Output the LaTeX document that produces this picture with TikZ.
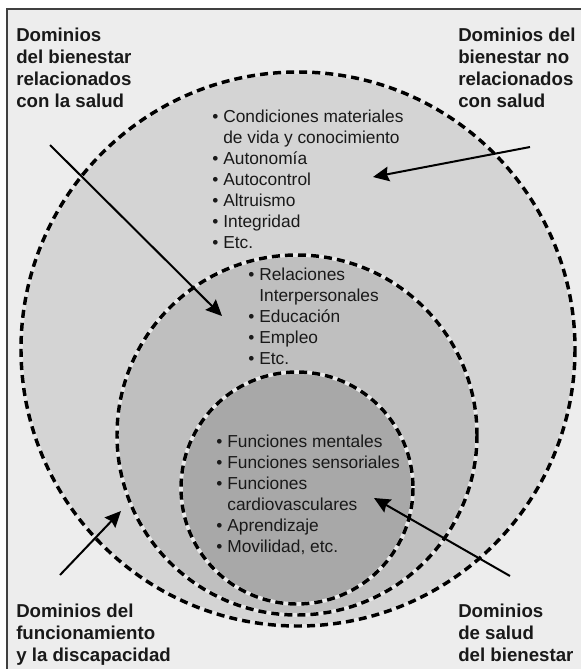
\documentclass[tikz,border=0pt]{standalone}
\usepackage{fontspec}
\setmainfont{Liberation Sans}
\usetikzlibrary{arrows.meta}
\newcommand{\punto}{\makebox[8.3pt][l]{\textbullet}}
\newcommand{\sangria}{\hspace*{8.3pt}}

\begin{document}
\begin{tikzpicture}[x=0.75pt,y=-0.75pt,
  etiqueta/.style={anchor=base west,align=left,inner sep=0pt,text=black!90,font=\fontsize{14}{16.5}\selectfont\bfseries},
  lista/.style={anchor=base west,align=left,inner sep=0pt,text=black!90,font=\fontsize{13}{15.75}\selectfont},
  halo/.style={draw=black!9,line width=2.8pt},
  anillo/.style={draw=black,line width=2.6pt,dash pattern=on 6pt off 3.8pt},
  flecha/.style={line width=1.5pt,-{Stealth[length=12pt,width=11pt,inset=1.5pt]}}]
\useasboundingbox (0,0) rectangle (581,669);
\fill[black!7] (7,9) rectangle (581,669);
\draw[line width=1.1pt,black!75] (7,669) -- (7,9) -- (581,9);

\fill[black!17] (298,349) circle [radius=277];
\draw[halo] (298,349) circle [radius=277];
\draw[anillo] (298,349) circle [radius=277];

\fill[black!25] (297,435) circle [radius=180];
\draw[halo] (297,435) circle [radius=180];
\draw[anillo] (297,435) circle [radius=180];

\fill[black!34] (297,488) circle [radius=116];
\draw[halo] (297,488) circle [radius=116];
\draw[anillo] (297,488) circle [radius=116];

\node[etiqueta] (relSalud) at (16,107) {Dominios\\del bienestar\\relacionados\\con la salud};
\node[etiqueta] (noSalud) at (458,107) {Dominios del\\bienestar no\\relacionados\\con salud};
\node[etiqueta] (funcionamiento) at (16,661) {Dominios del\\funcionamiento\\y la discapacidad};
\node[etiqueta] (saludBienestar) at (458,661) {Dominios\\de salud\\del bienestar};

\node[lista] (listaExterna) at (212,248) {\punto Condiciones materiales\\\sangria de vida y conocimiento\\\punto Autonomía\\\punto Autocontrol\\\punto Altruismo\\\punto Integridad\\\punto Etc.};
\node[lista] (listaMedia) at (248,364) {\punto Relaciones\\\sangria Interpersonales\\\punto Educación\\\punto Empleo\\\punto Etc.};
\node[lista] (listaInterna) at (216,552) {\punto Funciones mentales\\\punto Funciones sensoriales\\\punto Funciones\\\sangria cardiovasculares\\\punto Aprendizaje\\\punto Movilidad, etc.};

\coordinate (d1) at (50,145);
\coordinate (h1) at (222,316);
\coordinate (d2) at (530,147);
\coordinate (h2) at (373,177);
\coordinate (d3) at (60,575);
\coordinate (h3) at (121,511);
\coordinate (d4) at (510,576);
\coordinate (h4) at (374,498);
\draw[flecha] (d1) -- (h1);
\draw[flecha] (d2) -- (h2);
\draw[flecha] (d3) -- (h3);
\draw[flecha] (d4) -- (h4);
\end{tikzpicture}
\end{document}
